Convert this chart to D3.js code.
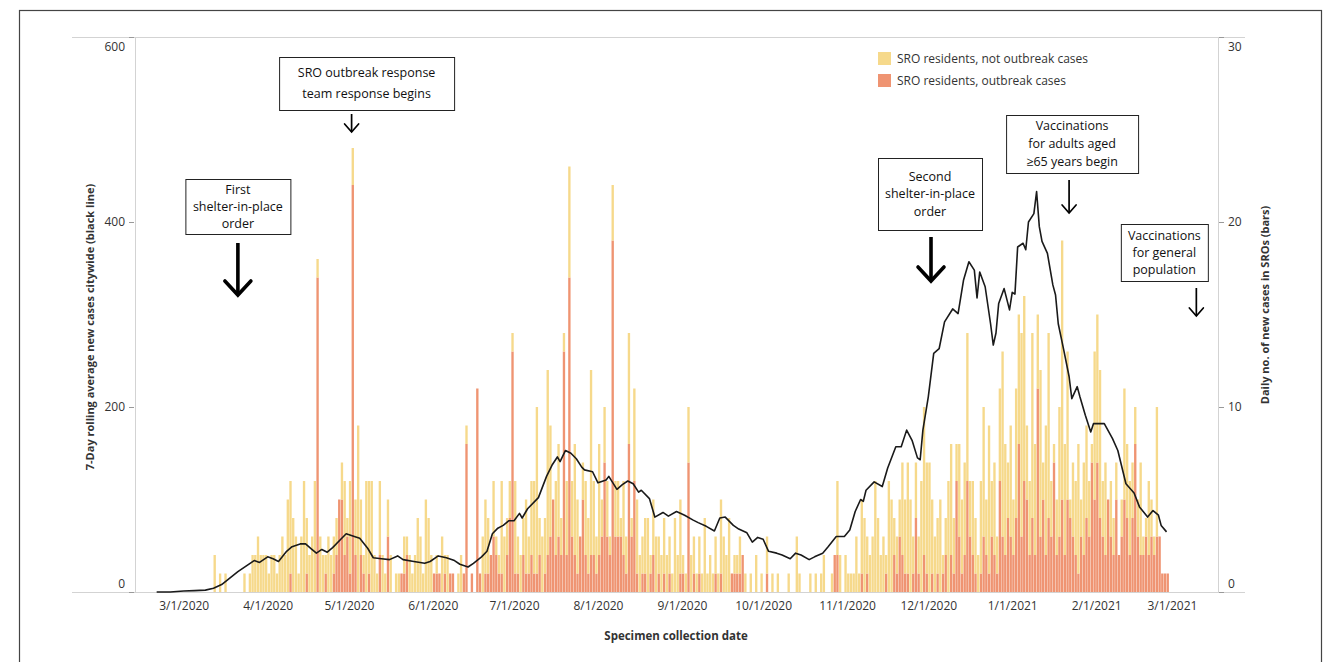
<!DOCTYPE html>
<meta charset="UTF-8">
<title>SRO cases and citywide rolling average</title>
<style>
  body { margin: 0; background: #fff; }
  text { font-family: "Open Sans", "Noto Sans", sans-serif; }
</style>
<svg width="1333" height="662"></svg>
<script src="https://d3js.org/d3.v7.min.js"></script>
<script>
// daily SRO cases, one value per day starting 3/1/2020
var barStart = "2020-03-01";
var outbreak = [
  0,0,0,0,0,0,0,0,0,0,  0,0,0,0,0,0,0,0,0,0,  0,0,0,0,0,0,0,0,0,0,
  0,0,0,0,0,0,0,0,0,1,  0,0,0,0,0,1,0,0,0,17, 0,0,1,0,0,1,2,5,5,2,
  3,1,22,2,0,2,1,0,1,0, 0,0,2,0,0,3,0,0,0,0,  1,1,2,0,0,0,0,0,0,0,
  0,0,1,1,1,0,1,0,1,1,  0,0,0,1,8,0,1,0,11,1, 0,1,1,2,3,2,1,1,0,2,
  4,13,1,1,0,2,1,1,2,1, 1,2,0,1,2,3,5,2,3,2,  13,2,17,3,2,1,3,5,2,1,
  2,2,1,2,3,7,3,2,19,3, 3,3,2,1,8,3,6,1,0,1,  1,0,1,2,0,1,0,1,0,1,
  0,0,0,1,1,0,7,0,1,0,  1,0,0,0,0,0,1,0,1,0,  0,0,1,1,1,1,2,0,0,0,
  0,0,0,0,0,1,0,0,0,0,  0,0,0,0,0,0,0,0,0,0,  0,0,0,0,0,0,0,0,0,0,
  2,2,0,0,0,0,0,0,0,0,  1,0,1,0,0,0,0,0,0,1,  0,0,2,1,3,2,1,1,0,1,
  4,1,0,2,1,0,1,0,1,0,  1,2,0,2,1,6,3,1,2,6,  3,2,1,0,1,3,2,1,3,2,
  1,6,3,2,4,3,2,4,8,3,  6,5,2,4,2,11,3,5,2,4, 3,7,2,3,5,2,5,4,3,2,
  1,3,2,4,3,7,5,7,4,3,  2,5,3,2,5,2,3,5,4,2,  4,8,3,2,2,3,2,3,2,3,
  3,1,1,1,0
];
var notOutbreak = [
  0,0,0,0,0,0,0,0,0,0,  0,2,0,1,0,1,0,0,0,0,  0,0,1,0,1,2,2,3,2,2,
  2,1,2,2,1,2,3,2,5,5,  4,3,1,3,6,3,2,3,6,1,  3,2,1,3,2,2,2,0,2,4,
  1,5,2,3,9,3,1,6,5,6,  2,1,4,2,1,2,2,0,1,1,  0,2,1,2,1,2,4,3,1,5,
  4,2,0,1,0,3,1,2,0,0,  0,1,2,0,1,0,0,0,0,0,  3,4,3,0,3,1,1,5,3,2,
  2,1,5,2,2,2,4,2,4,5,  9,2,3,3,10,6,0,4,5,2, 1,4,6,3,6,4,0,2,4,3,
  10,4,2,6,2,3,3,1,3,3, 3,1,4,2,6,1,5,4,2,2,  3,4,1,3,3,2,2,3,2,2,
  1,4,2,4,1,1,3,2,2,1,  2,1,4,1,2,1,2,1,4,3,  2,4,0,1,1,2,0,1,0,1,
  0,2,0,1,0,2,0,1,0,1,  0,0,0,1,0,0,3,1,0,0,  0,1,0,1,0,1,2,0,0,1,
  0,4,2,0,2,1,1,1,3,1,  4,4,2,2,3,6,4,2,3,1,  6,5,2,2,2,5,4,6,5,2,
  3,2,6,8,6,7,4,3,3,5,  1,2,6,6,3,2,5,4,5,8,  3,4,3,2,5,7,3,8,3,5,
  2,5,10,6,3,6,3,7,7,11, 10,4,4,10,6,4,9,2,7,10, 3,1,3,7,14,6,8,1,4,4,
  7,2,5,5,3,1,8,8,8,3,  5,0,3,2,2,0,2,6,4,4,  3,2,2,5,1,1,4,2,1,7,
  0,0,0,0,0
];

// citywide 7-day rolling average, read at days since 3/1/2020
var avgDay = [
  -10,-5,0,4,8,11,14,17,20,23,26,28,31,33,35,38,40,43,45,47,49,51,53,55,58,60,63,65,68,70,
  73,76,79,81,85,89,91,94,97,100,102,105,107,110,112,114,116,118,120,122,124,125,127,131,134,136,138,139,141,143,
  145,147,148,151,153,156,157,160,162,164,166,168,169,172,174,177,179,182,185,188,190,193,196,198,200,203,205,208,210,212,
  214,216,219,221,224,226,228,231,233,236,238,241,244,246,248,250,251,252,255,258,260,263,265,267,269,271,272,273,275,277,
  279,281,284,286,288,290,292,293,294,296,298,299,300,301,303,305,306,307,308,310,311,312,314,315,316,317,319,321,322,323,
  325,327,328,330,331,333,335,336,340,343,345,348,351,353,356,358,360,361,363
];
var avgValue = [
  0,0,1,1.5,2,4,8,15,22,28,34,32,38,36,33,44,49,52,52,47,42,46,43,48,57,63,60,58,47,37,
  36,35,39,35,33,31,33,39,37,34,30,27,31,38,44,63,69,72,77,77,85,80,90,102,125,137,146,141,153,150,
  144,135,132,130,118,121,125,111,116,120,117,108,110,101,81,86,82,87,83,78,75,71,66,80,81,72,68,64,54,59,
  57,44,42,40,36,42,40,35,38,42,49,60,60,67,87,100,98,110,119,114,134,157,157,175,164,145,143,175,211,258,
  263,292,306,301,337,357,348,318,346,330,290,267,280,312,328,305,324,322,373,377,370,400,409,433,395,379,366,332,321,290,
  262,233,209,222,211,191,173,182,182,166,153,117,107,92,81,88,83,72,65
];

var dateTicks = ["2020-03-01","2020-04-01","2020-05-01","2020-06-01","2020-07-01","2020-08-01","2020-09-01",
  "2020-10-01","2020-11-01","2020-12-01","2021-01-01","2021-02-01","2021-03-01"];
var leftTicks = [0, 200, 400, 600];
var rightTicks = [0, 10, 20, 30];

var notes = [
  {lines: ["First", "shelter-in-place", "order"], date: "2020-03-21", big: true},
  {lines: ["SRO outbreak response", "team response begins"], date: "2020-05-02", big: false},
  {lines: ["Second", "shelter-in-place", "order"], date: "2020-12-02", big: true},
  {lines: ["Vaccinations", "for adults aged", "\u226565 years begin"], date: "2021-01-22", big: false},
  {lines: ["Vaccinations", "for general", "population"], date: "2021-03-10", big: false}
];
// box geometry in px: offset of box centre from arrow, width, top, bottom, line gap, arrow top, arrow bottom
var noteLayout = [
  {dx: 0, w: 105, top: 179, bottom: 234, gap: 17, a0: 243, a1: 295},
  {dx: 15, w: 175, top: 57, bottom: 110, gap: 21, a0: 114, a1: 132},
  {dx: -1, w: 104, top: 158, bottom: 230, gap: 17.5, a0: 237, a1: 281},
  {dx: 3, w: 132, top: 115, bottom: 173, gap: 18, a0: 180, a1: 213},
  {dx: -32, w: 87, top: 224, bottom: 281, gap: 17, a0: 288, a1: 316}
];

var yellow = "#f6d98b", orange = "#ef9472", axisGrey = "#d3d3d3", textCol = "#333";

var svg = d3.select("svg");
var parse = d3.timeParse("%Y-%m-%d");
var t0 = parse(barStart);

var x = d3.scaleTime()
    .domain([parse("2020-02-12"), parse("2021-03-18")])
    .range([135, 1218]);
var yLeft = d3.scaleLinear().domain([0, 600]).range([592, 37]);
var yRight = d3.scaleLinear().domain([0, 30]).range([592, 37]);

var table = outbreak.map(function(o, i) {
  return {date: d3.timeDay.offset(t0, i), outbreak: o, notOutbreak: notOutbreak[i]};
});
var avg = avgDay.map(function(d, i) {
  return {date: d3.timeDay.offset(t0, d), value: avgValue[i]};
});

// outer frame
svg.append("rect")
    .attr("x", 19.5).attr("y", 10.5)
    .attr("width", 1302).attr("height", 700)
    .attr("fill", "none").attr("stroke", "#444").attr("stroke-width", 1.2);

// frame lines of the plot
svg.append("line").attr("x1", 72).attr("x2", 1245).attr("y1", 37.5).attr("y2", 37.5)
    .attr("stroke", axisGrey);
svg.append("line").attr("x1", 72).attr("x2", 1245).attr("y1", 592.5).attr("y2", 592.5)
    .attr("stroke", axisGrey);
svg.append("line").attr("x1", 135.5).attr("x2", 135.5).attr("y1", 37).attr("y2", 593)
    .attr("stroke", axisGrey);
svg.append("line").attr("x1", 1218.5).attr("x2", 1218.5).attr("y1", 37).attr("y2", 593)
    .attr("stroke", axisGrey);

// stacked bars
var dayW = x(d3.timeDay.offset(t0, 1)) - x(t0);
var stack = d3.stack().keys(["outbreak", "notOutbreak"])(table);
var colours = {outbreak: orange, notOutbreak: yellow};

svg.append("g").selectAll("g")
  .data(stack)
  .join("g")
    .attr("fill", function(s) { return colours[s.key]; })
  .selectAll("rect")
  .data(function(s) { return s.filter(function(d) { return d[1] > d[0]; }); })
  .join("rect")
    .attr("x", function(d) { return x(d.data.date); })
    .attr("width", dayW - 0.35)
    .attr("y", function(d) { return yRight(d[1]); })
    .attr("height", function(d) { return yRight(d[0]) - yRight(d[1]); });

// rolling average line
var line = d3.line()
    .x(function(d) { return x(d.date); })
    .y(function(d) { return yLeft(d.value); });

svg.append("path")
    .datum(avg)
    .attr("fill", "none")
    .attr("stroke", "#1a1a1a")
    .attr("stroke-width", 1.6)
    .attr("stroke-linejoin", "round")
    .attr("d", line);

// left axis
var gl = svg.append("g")
    .attr("transform", "translate(134,0)")
    .call(d3.axisLeft(yLeft).tickValues(leftTicks).tickSize(5).tickPadding(4));
gl.select(".domain").remove();
gl.selectAll(".tick line").attr("stroke", "#999");
gl.selectAll(".tick text")
    .attr("fill", textCol).style("font-size", "12px")
    .attr("dy", function(d) { return d === 600 ? "1.15em" : d === 0 ? "-0.35em" : "0.32em"; });

// right axis
var gr = svg.append("g")
    .attr("transform", "translate(1219,0)")
    .call(d3.axisRight(yRight).tickValues(rightTicks).tickSize(5).tickPadding(4));
gr.select(".domain").remove();
gr.selectAll(".tick line").attr("stroke", "#999");
gr.selectAll(".tick text")
    .attr("fill", textCol).style("font-size", "12px")
    .attr("dy", function(d) { return d === 30 ? "1.15em" : d === 0 ? "-0.35em" : "0.32em"; });

// date axis
var gx = svg.append("g")
    .attr("transform", "translate(0,592)")
    .call(d3.axisBottom(x)
      .tickValues(dateTicks.map(parse))
      .tickFormat(d3.timeFormat("%-m/%-d/%Y"))
      .tickSize(0).tickPadding(9));
gx.select(".domain").remove();
gx.selectAll(".tick text").attr("fill", textCol).style("font-size", "12px");

// axis titles
svg.append("text")
    .attr("transform", "translate(94,327) rotate(-90)")
    .attr("text-anchor", "middle")
    .style("font-size", "11px").style("font-weight", "700")
    .attr("fill", textCol)
    .text("7-Day rolling average new cases citywide (black line)");

svg.append("text")
    .attr("transform", "translate(1269,305) rotate(-90)")
    .attr("text-anchor", "middle")
    .style("font-size", "11px").style("font-weight", "700")
    .attr("fill", textCol)
    .text("Daily no. of new cases in SROs (bars)");

svg.append("text")
    .attr("x", 676).attr("y", 640)
    .attr("text-anchor", "middle")
    .style("font-size", "11.5px").style("font-weight", "700")
    .attr("fill", textCol)
    .text("Specimen collection date");

// legend
var legend = svg.append("g").attr("transform", "translate(878,52)");
[["SRO residents, not outbreak cases", yellow], ["SRO residents, outbreak cases", orange]]
  .forEach(function(item, i) {
    legend.append("rect").attr("x", 0).attr("y", i * 22)
        .attr("width", 13).attr("height", 13).attr("fill", item[1]);
    legend.append("text").attr("x", 19).attr("y", i * 22 + 11)
        .style("font-size", "12px").attr("fill", textCol)
        .text(item[0]);
  });

// annotations
notes.forEach(function(n, i) {
  var L = noteLayout[i];
  var ax = x(parse(n.date));
  var cx = ax + L.dx;
  var g = svg.append("g");
  g.append("rect")
      .attr("x", cx - L.w / 2 + 0.5).attr("y", L.top + 0.5)
      .attr("width", L.w).attr("height", L.bottom - L.top)
      .attr("fill", "#fff").attr("stroke", "#222").attr("stroke-width", 1);
  var mid = (L.top + L.bottom) / 2;
  n.lines.forEach(function(s, j) {
    g.append("text")
        .attr("x", cx).attr("y", mid + (j - (n.lines.length - 1) / 2) * L.gap)
        .attr("dy", "0.35em")
        .attr("text-anchor", "middle")
        .style("font-size", "12.5px")
        .attr("fill", "#111")
        .text(s);
  });
  var sw = n.big ? 3.6 : 1.7, hw = n.big ? 13 : 7, hh = n.big ? 14 : 8;
  g.append("line")
      .attr("x1", ax).attr("x2", ax).attr("y1", L.a0).attr("y2", L.a1)
      .attr("stroke", "#000").attr("stroke-width", sw);
  g.append("path")
      .attr("d", "M" + (ax - hw) + "," + (L.a1 - hh) + "L" + ax + "," + L.a1 + "L" + (ax + hw) + "," + (L.a1 - hh))
      .attr("fill", "none").attr("stroke", "#000").attr("stroke-width", sw)
      .attr("stroke-linejoin", "miter").attr("stroke-linecap", "round");
});
</script>
